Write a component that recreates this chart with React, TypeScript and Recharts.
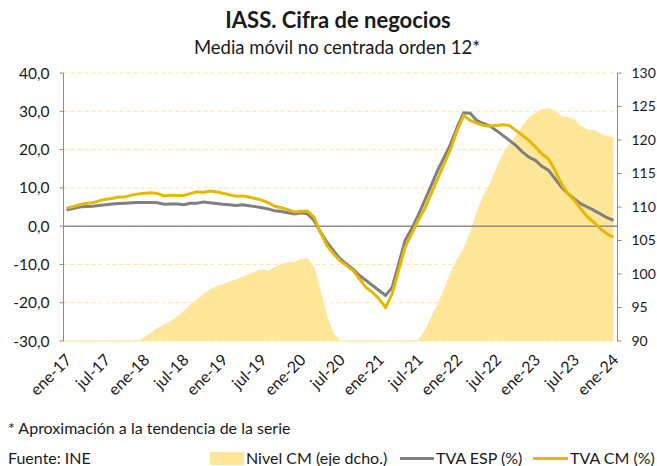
import { ComposedChart, Area, Line, XAxis, YAxis, CartesianGrid, ReferenceLine } from 'recharts';

const monthNames = ['ene', 'feb', 'mar', 'abr', 'may', 'jun', 'jul', 'ago', 'sep', 'oct', 'nov', 'dic'];
const years = ['17', '18', '19', '20', '21', '22', '23', '24'];

// Nivel CM (eje dcho.), ene-17 .. ene-24
const nivelCM = [
  90, 90, 90, 90, 90, 90, 90, 90, 90, 90, 90, 90,
  90.5, 91.2, 91.9, 92.4, 92.9, 93.6, 94.4, 95.3, 96.1, 96.9, 97.6, 98.1,
  98.4, 98.8, 99.1, 99.5, 99.9, 100.3, 100.6, 100.4, 101.0, 101.4, 101.7, 101.7,
  102.2, 102.3, 101.0, 97.4, 93.6, 91.1, 90, 90, 90, 90, 90, 90,
  90, 90, 90, 90, 90, 90, 90.1, 91.4, 93.4, 95.4, 97.6, 100.1,
  102.1, 103.8, 106.1, 109.1, 111.6, 113.3, 115.6, 117.8, 119.3, 120.5, 122.0, 123.3,
  124.0, 124.5, 124.7, 124.3, 123.5, 123.3, 123.0, 122.0, 121.5, 121.4, 120.9, 120.5,
  120.4,
];

// TVA ESP (%)
const tvaEsp = [
  4.3, 4.6, 5.0, 5.1, 5.2, 5.4, 5.6, 5.8, 5.9, 6.0, 6.1, 6.2,
  6.2, 6.2, 6.1, 5.7, 5.8, 5.8, 5.6, 6.0, 6.0, 6.3, 6.1, 5.9,
  5.7, 5.6, 5.4, 5.6, 5.3, 5.1, 4.8, 4.5, 4.0, 3.8, 3.5, 3.2,
  3.5, 3.2, 1.5, -1.5, -4.2, -6.4, -8.5, -9.9, -11.2, -12.9, -14.2, -15.5,
  -16.8, -18.1, -16.0, -9.9, -3.7, -0.7, 2.8, 6.7, 10.6, 14.6, 18.0, 21.5,
  25.9, 29.6, 29.5, 27.6, 26.8, 26.2, 25.0, 23.7, 22.4, 21.1, 19.4, 18.0,
  17.2, 15.6, 14.6, 12.4, 10.2, 8.5, 7.1, 5.8, 5.0, 4.1, 3.2, 2.2,
  1.5,
];

// TVA CM (%)
const tvaCm = [
  4.7, 5.1, 5.6, 6.0, 6.1, 6.6, 7.0, 7.2, 7.6, 7.6, 8.1, 8.4,
  8.6, 8.7, 8.5, 7.9, 8.1, 8.0, 8.0, 8.5, 9.0, 8.8, 9.2, 9.0,
  8.6, 8.2, 7.8, 7.9, 7.6, 7.2, 6.8, 6.1, 5.2, 4.8, 4.3, 3.7,
  3.9, 3.9, 2.4, -1.6, -5.1, -7.2, -9.0, -10.3, -11.6, -13.8, -16.0, -17.3,
  -19.0, -21.2, -17.7, -11.6, -5.5, -2.0, 1.5, 4.5, 8.5, 12.4, 16.3, 20.2,
  25.0, 28.9, 27.6, 26.9, 26.3, 26.1, 26.3, 26.5, 26.3, 25.0, 23.7, 22.4,
  20.7, 18.9, 17.6, 14.6, 11.1, 8.5, 6.7, 4.5, 2.4, 1.0, -0.7, -2.0,
  -2.9,
];

const leftTicks = [-30, -20, -10, 0, 10, 20, 30, 40];
const rightTicks = [90, 95, 100, 105, 110, 115, 120, 125, 130];

const months = years.flatMap(y => monthNames.map(m => `${m}-${y}`)).slice(0, nivelCM.length);

const chartData = months.map((month, i) => ({
  month,
  nivel: nivelCM[i],
  esp: tvaEsp[i],
  cm: tvaCm[i],
}));

const FONT = 'Lato, "Liberation Sans", sans-serif';

const MonthTick = ({ x, y, payload }: any) => (
  <text
    x={x + 6}
    y={y + 12}
    transform={`rotate(-45, ${x + 6}, ${y + 12})`}
    textAnchor="end"
    fontSize={16}
    fill="#1a1a1a"
    fontFamily={FONT}
  >
    {payload.value}
  </text>
);

const noteStyle = { position: 'absolute', fontSize: 16, lineHeight: '16px', whiteSpace: 'nowrap' } as const;

const App = () => {
  return (
    <div style={{ position: 'absolute', left: 0, top: 0, width: 657, height: 466, background: '#fff', fontFamily: FONT, color: '#1a1a1a', overflow: 'hidden' }}>
      <div style={{ position: 'absolute', top: 6, left: 0, width: 676, textAlign: 'center', fontSize: 22, fontWeight: 700 }}>
        IASS. Cifra de negocios
      </div>
      <div style={{ position: 'absolute', top: 36, left: 0, width: 674, textAlign: 'center', fontSize: 18.5 }}>
        Media móvil no centrada orden 12*
      </div>

      <div style={{ position: 'absolute', left: 0, top: 0 }}>
        <ComposedChart width={657} height={400} data={chartData} margin={{ top: 73, right: 0, left: 0, bottom: 0 }}>
          <CartesianGrid yAxisId="left" vertical={false} stroke="#FFE699" strokeDasharray="4 3" />
          <XAxis
            dataKey="month"
            scale="point"
            interval={5}
            height={59}
            padding={{ left: 3, right: 4 }}
            axisLine={false}
            tickLine={false}
            tick={<MonthTick />}
          />
          <YAxis
            yAxisId="left"
            width={63.5}
            domain={[-30, 40]}
            ticks={leftTicks}
            tickFormatter={(v: number) => v.toFixed(1).replace('.', ',')}
            tick={{ fontSize: 15.5, fill: '#1a1a1a', fontFamily: FONT }}
            axisLine={{ stroke: '#8c8c8c' }}
            tickLine={{ stroke: '#8c8c8c' }}
            tickSize={4}
            tickMargin={10}
          />
          <YAxis
            yAxisId="right"
            orientation="right"
            width={39.5}
            domain={[90, 130]}
            ticks={rightTicks}
            tick={{ fontSize: 14, fill: '#1a1a1a', fontFamily: FONT, textAnchor: 'start' }}
            axisLine={{ stroke: '#8c8c8c' }}
            tickLine={{ stroke: '#8c8c8c' }}
            tickSize={4}
            tickMargin={10}
          />
          <Area
            yAxisId="right"
            dataKey="nivel"
            type="linear"
            baseValue="dataMin"
            fill="#FFE699"
            fillOpacity={1}
            stroke="#FFE699"
            strokeWidth={1}
            isAnimationActive={false}
          />
          <ReferenceLine yAxisId="left" y={0} stroke="#8c8c8c" strokeWidth={1.5} />
          <Line
            yAxisId="left"
            dataKey="esp"
            type="linear"
            stroke="#808080"
            strokeWidth={3}
            dot={false}
            isAnimationActive={false}
          />
          <Line
            yAxisId="left"
            dataKey="cm"
            type="linear"
            stroke="#E6B800"
            strokeWidth={3}
            dot={false}
            isAnimationActive={false}
          />
        </ComposedChart>
      </div>

      <div style={{ ...noteStyle, left: 8, top: 420 }}>* Aproximación a la tendencia de la serie</div>
      <div style={{ ...noteStyle, left: 8, top: 450 }}>Fuente: INE</div>

      <div style={{ position: 'absolute', left: 210, top: 452, width: 34, height: 13, background: '#FFE699' }} />
      <div style={{ ...noteStyle, left: 246, top: 450 }}>Nivel CM (eje dcho.)</div>
      <div style={{ position: 'absolute', left: 400, top: 457, width: 34, height: 3, background: '#808080' }} />
      <div style={{ ...noteStyle, left: 436, top: 450 }}>TVA ESP (%)</div>
      <div style={{ position: 'absolute', left: 533, top: 457, width: 35, height: 3, background: '#E6B800' }} />
      <div style={{ ...noteStyle, left: 570, top: 450 }}>TVA CM (%)</div>
    </div>
  );
};

export default App;
